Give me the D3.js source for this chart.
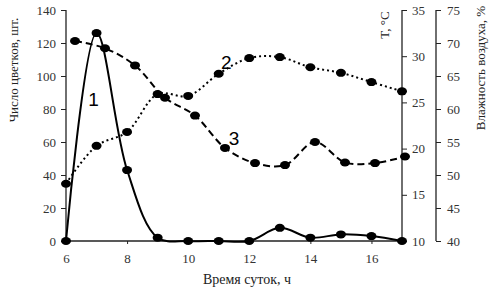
<!DOCTYPE html>
<html>
<head>
<meta charset="utf-8">
<script src="https://cdn.jsdelivr.net/npm/d3@7"></script>
<style>
  body { margin: 0; background: #fff; }
  text { font-family: "Liberation Serif", "DejaVu Serif", serif; }
</style>
</head>
<body>
<div id="chart-area"></div>
<script>
let hours = [6, 7, 8, 9, 10, 11, 12, 13, 14, 15, 16, 17];
let flowers = [0, 126, 43, 2, 0, 0, 0, 8, 2, 4, 3, 0];
let temperature = [16.2, 20.3, 21.8, 25.9, 25.7, 28.1, 29.8, 29.9, 28.8, 28.2, 27.2, 26.2];
let humidity = [70.3, 69.2, 66.6, 61.7, 59.0, 54.1, 51.8, 51.5, 55.0, 51.9, 51.8, 52.8];

let xTicks = [6, 8, 10, 12, 14, 16];
let flowerTicks = [0, 20, 40, 60, 80, 100, 120, 140];
let tempTicks = [10, 15, 20, 25, 30, 35];
let humTicks = [40, 45, 50, 55, 60, 65, 70, 75];

let W = 494, H = 290;
let svg = d3.select("#chart-area").append("svg")
    .attr("width", W).attr("height", H);

let x = d3.scaleLinear().domain([6, 17]).range([66, 402]);
// humidity series sits on a slightly shifted hidden x axis
let xH = d3.scaleLinear().domain([6, 17]).range([75, 405]);
let y = d3.scaleLinear().domain([0, 140]).range([241, 10]);
let yT = d3.scaleLinear().domain([10, 35]).range([241, 10]);
let yH = d3.scaleLinear().domain([40, 75]).range([241, 10]);

//axes
let xAxis = svg.append("g")
    .attr("transform", "translate(0,241)")
    .call(d3.axisBottom(x).tickValues(xTicks).tickSize(3).tickPadding(10));
let leftAxis = svg.append("g")
    .attr("transform", "translate(66,0)")
    .call(d3.axisLeft(y).tickValues(flowerTicks).tickSize(5).tickPadding(5));
let tAxis = svg.append("g")
    .attr("transform", "translate(402,0)")
    .call(d3.axisRight(yT).tickValues(tempTicks).tickSize(5).tickPadding(5));
let hAxis = svg.append("g")
    .attr("transform", "translate(436,0)")
    .call(d3.axisRight(yH).tickValues(humTicks).tickSize(5).tickPadding(6));

[xAxis, leftAxis, tAxis, hAxis].forEach(function(a){
    a.select(".domain").attr("stroke", "#222").attr("stroke-width", 1.3);
    a.selectAll(".tick line").attr("stroke", "#222");
    a.selectAll(".tick text")
        .attr("font-family", "Liberation Serif, serif")
        .attr("font-size", "13px")
        .attr("fill", "#333");
});
xAxis.select(".domain").attr("d", "M66,0H402");
leftAxis.select(".domain").attr("d", "M0,241V10");
tAxis.select(".domain").attr("d", "M0,241V10");
hAxis.select(".domain").attr("d", "M0,241V10");

//lines
function drawSeries(data, xs, ys, dash) {
    let line = d3.line()
        .x(function(d, i){ return xs(hours[i]); })
        .y(function(d){ return ys(d); })
        .curve(d3.curveCatmullRom.alpha(0.5));
    svg.append("path")
        .datum(data)
        .attr("d", line)
        .attr("fill", "none")
        .attr("stroke", "#000")
        .attr("stroke-width", 2)
        .attr("stroke-dasharray", dash);
    svg.append("g").selectAll("ellipse")
        .data(data)
        .enter()
        .append("ellipse")
        .attr("cx", function(d, i){ return xs(hours[i]); })
        .attr("cy", function(d){ return ys(d); })
        .attr("rx", 5)
        .attr("ry", 4)
        .attr("fill", "#000");
}
drawSeries(temperature, x, yT, "2,3");
drawSeries(humidity, xH, yH, "7,4");
drawSeries(flowers, x, y, null);

//series numbers
let numbers = [
    {t: "1", h: 6.9, v: 82},
    {t: "2", h: 11.25, v: 104},
    {t: "3", h: 11.5, v: 58}
];
svg.selectAll(".num")
    .data(numbers)
    .enter()
    .append("text")
    .attr("class", "num")
    .attr("x", function(d){ return x(d.h); })
    .attr("y", function(d){ return y(d.v); })
    .attr("text-anchor", "middle")
    .attr("font-family", "Liberation Sans, Arial, sans-serif")
    .style("font-family", "Liberation Sans, Arial, sans-serif")
    .attr("font-size", "19px")
    .text(function(d){ return d.t; });

//axis titles
svg.append("text")
    .attr("transform", "translate(18,70) rotate(-90)")
    .attr("text-anchor", "middle")
    .attr("font-size", "13px")
    .attr("fill", "#222")
    .text("Число цветков,  шт.");
svg.append("text")
    .attr("transform", "translate(389,25) rotate(-90)")
    .attr("text-anchor", "middle")
    .attr("font-size", "13px")
    .attr("fill", "#222")
    .text("T, °C");
svg.append("text")
    .attr("transform", "translate(485,68) rotate(-90)")
    .attr("text-anchor", "middle")
    .attr("font-size", "13px")
    .attr("fill", "#222")
    .text("Влажность воздуха, %");
svg.append("text")
    .attr("x", 247)
    .attr("y", 284)
    .attr("text-anchor", "middle")
    .attr("font-size", "14px")
    .attr("fill", "#222")
    .text("Время суток, ч");
</script>
</body>
</html>
